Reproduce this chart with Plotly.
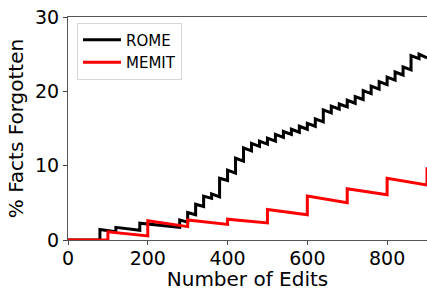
import plotly.graph_objects as go

# ---- data ----
edits_end = 900

rome_jump_edits = [80, 120, 180, 280, 300, 320, 340, 360, 380, 400, 420, 440, 460, 480,
                   500, 520, 540, 560, 580, 600, 620, 640, 660, 680, 700, 720, 740, 760,
                   780, 800, 820, 840, 860, 880]
rome_peaks = [1.4, 1.7, 2.25, 2.7, 3.7, 4.8, 5.9, 6.2, 8.3, 9.4, 11.0, 12.4, 13.0, 13.3,
              13.7, 14.2, 14.6, 14.9, 15.3, 15.7, 16.3, 17.5, 18.0, 18.3, 18.8, 19.3, 20.1,
              20.7, 21.3, 21.9, 22.6, 23.3, 24.8, 25.0]
rome_troughs = [1.1, 1.3, 1.7, 2.4, 3.4, 4.5, 5.6, 5.8, 8.0, 9.0, 10.6, 12.0, 12.6, 12.9,
                13.3, 13.8, 14.2, 14.5, 14.9, 15.3, 15.9, 17.1, 17.6, 17.9, 18.4, 18.9, 19.7,
                20.3, 20.9, 21.5, 22.2, 22.9, 24.4, 24.5]

memit_jump_edits = [100, 200, 300, 400, 500, 600, 700, 800, 900]
memit_peaks = [1.1, 2.6, 2.7, 2.8, 4.1, 5.9, 6.9, 8.3, 9.8]
memit_troughs = [0.55, 1.8, 2.1, 2.3, 3.4, 5.0, 6.1, 7.4, 9.8]

x_ticks = [0, 200, 400, 600, 800]
y_ticks = [0, 10, 20, 30]


def sawtooth(jumps, peaks, troughs, end, start_val=0.0):
    xs, ys = [0], [start_val]
    prev = start_val
    for i, e in enumerate(jumps):
        xs += [e, e]
        ys += [prev, peaks[i]]
        prev = troughs[i]
    if jumps[-1] < end:
        xs.append(end)
        ys.append(troughs[-1])
    return xs, ys


rx, ry = sawtooth(rome_jump_edits, rome_peaks, rome_troughs, edits_end)
mx, my = sawtooth(memit_jump_edits, memit_peaks, memit_troughs, edits_end)

fig = go.Figure()
fig.add_trace(go.Scatter(x=rx, y=ry, mode="lines", name="ROME",
                         line=dict(color="black", width=3)))
fig.add_trace(go.Scatter(x=mx, y=my, mode="lines", name="MEMIT",
                         line=dict(color="red", width=3)))

font_family = "DejaVu Sans"
fig.update_layout(
    width=427, height=291,
    margin=dict(l=68, r=0, t=17, b=51),
    plot_bgcolor="white", paper_bgcolor="white",
    font=dict(family=font_family, color="black"),
    showlegend=True,
    legend=dict(x=0.025, y=0.975, xanchor="left", yanchor="top",
                bgcolor="rgba(255,255,255,0.8)", bordercolor="#d6d6d6", borderwidth=1,
                itemwidth=38,
                font=dict(size=15, family=font_family)),
)
fig.update_xaxes(range=[0, 900], tickvals=x_ticks, ticks="outside", ticklen=4,
                 tickcolor="#444", showline=True, linecolor="#555", linewidth=1,
                 mirror=True, showgrid=False, zeroline=False, automargin=False,
                 ticklabeloverflow="allow", ticklabelstandoff=-3,
                 tickfont=dict(size=19),
                 title=dict(text="Number of Edits", font=dict(size=20), standoff=1))
fig.update_yaxes(range=[0, 30], tickvals=y_ticks, ticks="outside", ticklen=4,
                 tickcolor="#444", showline=True, linecolor="#555", linewidth=1,
                 mirror=False, showgrid=False, zeroline=False, automargin=False,
                 ticklabeloverflow="allow",
                 tickfont=dict(size=19),
                 title=dict(text="% Facts Forgotten", font=dict(size=20), standoff=6))

fig.write_html(
    "out.html",
    config={"displayModeBar": False},
    post_script="document.body.style.margin='0';document.body.style.overflow='hidden';",
)
